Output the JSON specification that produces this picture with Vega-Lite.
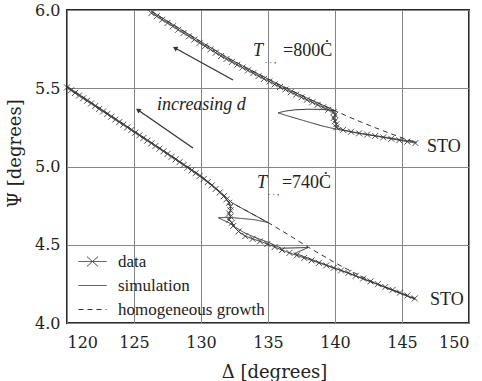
{
  "$schema": "https://vega.github.io/schema/vega-lite/v6.json",
  "width": 402,
  "height": 313,
  "autosize": {"type": "none"},
  "padding": {"left": 67, "top": 10, "right": 13, "bottom": 58},
  "background": "white",
  "config": {
    "view": {"stroke": "#2a2a2a", "strokeWidth": 2},
    "axis": {
      "grid": true, "gridColor": "#858585", "gridWidth": 1, "ticks": false, "domain": false,
      "labelFont": "DejaVu Serif, Liberation Serif, serif", "labelFontSize": 16, "labelColor": "#222",
      "titleFont": "DejaVu Serif, Liberation Serif, serif", "titleFontSize": 18, "titleFontWeight": "normal", "titleColor": "#222"
    }
  },
  "datasets": {
    "curves": [
      {"curve":"800","series":"data","order":1,"delta":126.3,"psi":5.980},
      {"curve":"800","series":"data","order":2,"delta":126.7,"psi":5.960},
      {"curve":"800","series":"data","order":3,"delta":127.1,"psi":5.938},
      {"curve":"800","series":"data","order":4,"delta":127.5,"psi":5.917},
      {"curve":"800","series":"data","order":5,"delta":127.9,"psi":5.896},
      {"curve":"800","series":"data","order":6,"delta":128.3,"psi":5.874},
      {"curve":"800","series":"data","order":7,"delta":128.7,"psi":5.853},
      {"curve":"800","series":"data","order":8,"delta":129.1,"psi":5.832},
      {"curve":"800","series":"data","order":9,"delta":129.5,"psi":5.811},
      {"curve":"800","series":"data","order":10,"delta":129.9,"psi":5.790},
      {"curve":"800","series":"data","order":11,"delta":130.3,"psi":5.769},
      {"curve":"800","series":"data","order":12,"delta":130.7,"psi":5.748},
      {"curve":"800","series":"data","order":13,"delta":131.1,"psi":5.727},
      {"curve":"800","series":"data","order":14,"delta":131.5,"psi":5.706},
      {"curve":"800","series":"data","order":15,"delta":131.9,"psi":5.687},
      {"curve":"800","series":"data","order":16,"delta":132.3,"psi":5.668},
      {"curve":"800","series":"data","order":17,"delta":132.7,"psi":5.650},
      {"curve":"800","series":"data","order":18,"delta":133.1,"psi":5.632},
      {"curve":"800","series":"data","order":19,"delta":133.5,"psi":5.614},
      {"curve":"800","series":"data","order":20,"delta":133.9,"psi":5.596},
      {"curve":"800","series":"data","order":21,"delta":134.3,"psi":5.578},
      {"curve":"800","series":"data","order":22,"delta":134.7,"psi":5.560},
      {"curve":"800","series":"data","order":23,"delta":135.1,"psi":5.543},
      {"curve":"800","series":"data","order":24,"delta":135.5,"psi":5.525},
      {"curve":"800","series":"data","order":25,"delta":135.9,"psi":5.508},
      {"curve":"800","series":"data","order":26,"delta":136.3,"psi":5.492},
      {"curve":"800","series":"data","order":27,"delta":136.7,"psi":5.475},
      {"curve":"800","series":"data","order":28,"delta":137.1,"psi":5.459},
      {"curve":"800","series":"data","order":29,"delta":137.5,"psi":5.442},
      {"curve":"800","series":"data","order":30,"delta":137.9,"psi":5.426},
      {"curve":"800","series":"data","order":31,"delta":138.3,"psi":5.410},
      {"curve":"800","series":"data","order":32,"delta":138.7,"psi":5.394},
      {"curve":"800","series":"data","order":33,"delta":139.1,"psi":5.378},
      {"curve":"800","series":"data","order":34,"delta":139.5,"psi":5.363},
      {"curve":"800","series":"data","order":35,"delta":139.9,"psi":5.348},
      {"curve":"800","series":"data","order":36,"delta":140.0,"psi":5.330},
      {"curve":"800","series":"data","order":37,"delta":139.9,"psi":5.310},
      {"curve":"800","series":"data","order":38,"delta":140.0,"psi":5.290},
      {"curve":"800","series":"data","order":39,"delta":140.1,"psi":5.270},
      {"curve":"800","series":"data","order":40,"delta":140.1,"psi":5.250},
      {"curve":"800","series":"data","order":41,"delta":140.6,"psi":5.234},
      {"curve":"800","series":"data","order":42,"delta":141.2,"psi":5.222},
      {"curve":"800","series":"data","order":43,"delta":141.8,"psi":5.212},
      {"curve":"800","series":"data","order":44,"delta":142.4,"psi":5.204},
      {"curve":"800","series":"data","order":45,"delta":143.0,"psi":5.195},
      {"curve":"800","series":"data","order":46,"delta":143.6,"psi":5.186},
      {"curve":"800","series":"data","order":47,"delta":144.2,"psi":5.177},
      {"curve":"800","series":"data","order":48,"delta":144.8,"psi":5.168},
      {"curve":"800","series":"data","order":49,"delta":145.4,"psi":5.159},
      {"curve":"800","series":"data","order":50,"delta":146.0,"psi":5.150},

      {"curve":"800","series":"simulation","order":1,"delta":126.3,"psi":5.992},
      {"curve":"800","series":"simulation","order":2,"delta":128.0,"psi":5.902},
      {"curve":"800","series":"simulation","order":3,"delta":130.0,"psi":5.797},
      {"curve":"800","series":"simulation","order":4,"delta":132.0,"psi":5.694},
      {"curve":"800","series":"simulation","order":5,"delta":134.0,"psi":5.603},
      {"curve":"800","series":"simulation","order":6,"delta":136.0,"psi":5.516},
      {"curve":"800","series":"simulation","order":7,"delta":138.0,"psi":5.434},
      {"curve":"800","series":"simulation","order":8,"delta":140.0,"psi":5.357},
      {"curve":"800","series":"simulation","order":9,"delta":139.0,"psi":5.365},
      {"curve":"800","series":"simulation","order":10,"delta":138.0,"psi":5.366},
      {"curve":"800","series":"simulation","order":11,"delta":137.0,"psi":5.362},
      {"curve":"800","series":"simulation","order":12,"delta":136.3,"psi":5.354},
      {"curve":"800","series":"simulation","order":13,"delta":135.75,"psi":5.343},
      {"curve":"800","series":"simulation","order":14,"delta":136.3,"psi":5.328},
      {"curve":"800","series":"simulation","order":15,"delta":137.0,"psi":5.310},
      {"curve":"800","series":"simulation","order":16,"delta":138.0,"psi":5.285},
      {"curve":"800","series":"simulation","order":17,"delta":139.0,"psi":5.260},
      {"curve":"800","series":"simulation","order":18,"delta":140.0,"psi":5.240},
      {"curve":"800","series":"simulation","order":19,"delta":141.0,"psi":5.225},
      {"curve":"800","series":"simulation","order":20,"delta":142.0,"psi":5.210},
      {"curve":"800","series":"simulation","order":21,"delta":143.0,"psi":5.197},
      {"curve":"800","series":"simulation","order":22,"delta":144.0,"psi":5.184},
      {"curve":"800","series":"simulation","order":23,"delta":145.0,"psi":5.170},
      {"curve":"800","series":"simulation","order":24,"delta":146.1,"psi":5.155},

      {"curve":"800","series":"homogeneous growth","order":1,"delta":126.3,"psi":5.992},
      {"curve":"800","series":"homogeneous growth","order":2,"delta":128.0,"psi":5.902},
      {"curve":"800","series":"homogeneous growth","order":3,"delta":130.0,"psi":5.797},
      {"curve":"800","series":"homogeneous growth","order":4,"delta":132.0,"psi":5.694},
      {"curve":"800","series":"homogeneous growth","order":5,"delta":134.0,"psi":5.603},
      {"curve":"800","series":"homogeneous growth","order":6,"delta":136.0,"psi":5.516},
      {"curve":"800","series":"homogeneous growth","order":7,"delta":138.0,"psi":5.434},
      {"curve":"800","series":"homogeneous growth","order":8,"delta":140.0,"psi":5.357},
      {"curve":"800","series":"homogeneous growth","order":9,"delta":141.0,"psi":5.318},
      {"curve":"800","series":"homogeneous growth","order":10,"delta":142.0,"psi":5.282},
      {"curve":"800","series":"homogeneous growth","order":11,"delta":143.0,"psi":5.248},
      {"curve":"800","series":"homogeneous growth","order":12,"delta":144.0,"psi":5.215},
      {"curve":"800","series":"homogeneous growth","order":13,"delta":145.0,"psi":5.183},
      {"curve":"800","series":"homogeneous growth","order":14,"delta":146.1,"psi":5.152},

      {"curve":"740","series":"data","order":1,"delta":120.0,"psi":5.505},
      {"curve":"740","series":"data","order":2,"delta":120.3,"psi":5.487},
      {"curve":"740","series":"data","order":3,"delta":120.6,"psi":5.470},
      {"curve":"740","series":"data","order":4,"delta":120.9,"psi":5.453},
      {"curve":"740","series":"data","order":5,"delta":121.2,"psi":5.436},
      {"curve":"740","series":"data","order":6,"delta":121.5,"psi":5.420},
      {"curve":"740","series":"data","order":7,"delta":121.8,"psi":5.403},
      {"curve":"740","series":"data","order":8,"delta":122.1,"psi":5.386},
      {"curve":"740","series":"data","order":9,"delta":122.4,"psi":5.368},
      {"curve":"740","series":"data","order":10,"delta":122.7,"psi":5.352},
      {"curve":"740","series":"data","order":11,"delta":123.0,"psi":5.335},
      {"curve":"740","series":"data","order":12,"delta":123.3,"psi":5.318},
      {"curve":"740","series":"data","order":13,"delta":123.6,"psi":5.300},
      {"curve":"740","series":"data","order":14,"delta":123.9,"psi":5.284},
      {"curve":"740","series":"data","order":15,"delta":124.2,"psi":5.267},
      {"curve":"740","series":"data","order":16,"delta":124.5,"psi":5.250},
      {"curve":"740","series":"data","order":17,"delta":124.8,"psi":5.233},
      {"curve":"740","series":"data","order":18,"delta":125.1,"psi":5.216},
      {"curve":"740","series":"data","order":19,"delta":125.4,"psi":5.199},
      {"curve":"740","series":"data","order":20,"delta":125.7,"psi":5.182},
      {"curve":"740","series":"data","order":21,"delta":126.0,"psi":5.165},
      {"curve":"740","series":"data","order":22,"delta":126.3,"psi":5.148},
      {"curve":"740","series":"data","order":23,"delta":126.6,"psi":5.131},
      {"curve":"740","series":"data","order":24,"delta":126.9,"psi":5.114},
      {"curve":"740","series":"data","order":25,"delta":127.2,"psi":5.097},
      {"curve":"740","series":"data","order":26,"delta":127.5,"psi":5.080},
      {"curve":"740","series":"data","order":27,"delta":127.8,"psi":5.062},
      {"curve":"740","series":"data","order":28,"delta":128.1,"psi":5.045},
      {"curve":"740","series":"data","order":29,"delta":128.4,"psi":5.028},
      {"curve":"740","series":"data","order":30,"delta":128.7,"psi":5.010},
      {"curve":"740","series":"data","order":31,"delta":129.0,"psi":4.993},
      {"curve":"740","series":"data","order":32,"delta":129.3,"psi":4.975},
      {"curve":"740","series":"data","order":33,"delta":129.6,"psi":4.957},
      {"curve":"740","series":"data","order":34,"delta":129.9,"psi":4.939},
      {"curve":"740","series":"data","order":35,"delta":130.2,"psi":4.920},
      {"curve":"740","series":"data","order":36,"delta":130.5,"psi":4.900},
      {"curve":"740","series":"data","order":37,"delta":130.8,"psi":4.879},
      {"curve":"740","series":"data","order":38,"delta":131.1,"psi":4.857},
      {"curve":"740","series":"data","order":39,"delta":131.4,"psi":4.834},
      {"curve":"740","series":"data","order":40,"delta":131.7,"psi":4.810},
      {"curve":"740","series":"data","order":41,"delta":131.9,"psi":4.790},
      {"curve":"740","series":"data","order":42,"delta":132.1,"psi":4.768},
      {"curve":"740","series":"data","order":43,"delta":132.2,"psi":4.745},
      {"curve":"740","series":"data","order":44,"delta":132.2,"psi":4.720},
      {"curve":"740","series":"data","order":45,"delta":132.1,"psi":4.700},
      {"curve":"740","series":"data","order":46,"delta":132.2,"psi":4.680},
      {"curve":"740","series":"data","order":47,"delta":132.1,"psi":4.660},
      {"curve":"740","series":"data","order":48,"delta":132.3,"psi":4.640},
      {"curve":"740","series":"data","order":49,"delta":132.4,"psi":4.620},
      {"curve":"740","series":"data","order":50,"delta":132.8,"psi":4.585},
      {"curve":"740","series":"data","order":51,"delta":133.3,"psi":4.555},
      {"curve":"740","series":"data","order":52,"delta":133.85,"psi":4.538},
      {"curve":"740","series":"data","order":53,"delta":134.4,"psi":4.522},
      {"curve":"740","series":"data","order":54,"delta":134.95,"psi":4.505},
      {"curve":"740","series":"data","order":55,"delta":135.5,"psi":4.486},
      {"curve":"740","series":"data","order":56,"delta":136.05,"psi":4.466},
      {"curve":"740","series":"data","order":57,"delta":136.6,"psi":4.448},
      {"curve":"740","series":"data","order":58,"delta":137.15,"psi":4.432},
      {"curve":"740","series":"data","order":59,"delta":137.7,"psi":4.416},
      {"curve":"740","series":"data","order":60,"delta":138.25,"psi":4.400},
      {"curve":"740","series":"data","order":61,"delta":138.8,"psi":4.384},
      {"curve":"740","series":"data","order":62,"delta":139.35,"psi":4.368},
      {"curve":"740","series":"data","order":63,"delta":139.9,"psi":4.352},
      {"curve":"740","series":"data","order":64,"delta":140.45,"psi":4.336},
      {"curve":"740","series":"data","order":65,"delta":141.0,"psi":4.320},
      {"curve":"740","series":"data","order":66,"delta":141.55,"psi":4.302},
      {"curve":"740","series":"data","order":67,"delta":142.1,"psi":4.284},
      {"curve":"740","series":"data","order":68,"delta":142.65,"psi":4.266},
      {"curve":"740","series":"data","order":69,"delta":143.2,"psi":4.248},
      {"curve":"740","series":"data","order":70,"delta":143.75,"psi":4.230},
      {"curve":"740","series":"data","order":71,"delta":144.3,"psi":4.212},
      {"curve":"740","series":"data","order":72,"delta":144.85,"psi":4.194},
      {"curve":"740","series":"data","order":73,"delta":145.4,"psi":4.176},
      {"curve":"740","series":"data","order":74,"delta":145.95,"psi":4.157},

      {"curve":"740","series":"simulation","order":1,"delta":120.0,"psi":5.512},
      {"curve":"740","series":"simulation","order":2,"delta":122.0,"psi":5.398},
      {"curve":"740","series":"simulation","order":3,"delta":124.0,"psi":5.284},
      {"curve":"740","series":"simulation","order":4,"delta":126.0,"psi":5.170},
      {"curve":"740","series":"simulation","order":5,"delta":128.0,"psi":5.056},
      {"curve":"740","series":"simulation","order":6,"delta":129.0,"psi":4.998},
      {"curve":"740","series":"simulation","order":7,"delta":130.0,"psi":4.940},
      {"curve":"740","series":"simulation","order":8,"delta":131.0,"psi":4.870},
      {"curve":"740","series":"simulation","order":9,"delta":131.8,"psi":4.810},
      {"curve":"740","series":"simulation","order":10,"delta":132.3,"psi":4.768},
      {"curve":"740","series":"simulation","order":11,"delta":133.5,"psi":4.712},
      {"curve":"740","series":"simulation","order":12,"delta":135.0,"psi":4.642},
      {"curve":"740","series":"simulation","order":13,"delta":134.0,"psi":4.660},
      {"curve":"740","series":"simulation","order":14,"delta":133.0,"psi":4.668},
      {"curve":"740","series":"simulation","order":15,"delta":132.0,"psi":4.676},
      {"curve":"740","series":"simulation","order":16,"delta":131.3,"psi":4.672},
      {"curve":"740","series":"simulation","order":17,"delta":131.6,"psi":4.660},
      {"curve":"740","series":"simulation","order":18,"delta":132.1,"psi":4.640},
      {"curve":"740","series":"simulation","order":19,"delta":132.6,"psi":4.610},
      {"curve":"740","series":"simulation","order":20,"delta":133.2,"psi":4.578},
      {"curve":"740","series":"simulation","order":21,"delta":134.0,"psi":4.548},
      {"curve":"740","series":"simulation","order":22,"delta":135.0,"psi":4.516},
      {"curve":"740","series":"simulation","order":23,"delta":136.0,"psi":4.478},
      {"curve":"740","series":"simulation","order":24,"delta":138.0,"psi":4.482},
      {"curve":"740","series":"simulation","order":25,"delta":137.0,"psi":4.445},
      {"curve":"740","series":"simulation","order":26,"delta":138.0,"psi":4.415},
      {"curve":"740","series":"simulation","order":27,"delta":139.0,"psi":4.382},
      {"curve":"740","series":"simulation","order":28,"delta":140.0,"psi":4.350},
      {"curve":"740","series":"simulation","order":29,"delta":141.0,"psi":4.318},
      {"curve":"740","series":"simulation","order":30,"delta":142.0,"psi":4.285},
      {"curve":"740","series":"simulation","order":31,"delta":143.0,"psi":4.252},
      {"curve":"740","series":"simulation","order":32,"delta":144.0,"psi":4.218},
      {"curve":"740","series":"simulation","order":33,"delta":145.0,"psi":4.185},
      {"curve":"740","series":"simulation","order":34,"delta":146.0,"psi":4.150},

      {"curve":"740","series":"homogeneous growth","order":1,"delta":120.0,"psi":5.512},
      {"curve":"740","series":"homogeneous growth","order":2,"delta":124.0,"psi":5.284},
      {"curve":"740","series":"homogeneous growth","order":3,"delta":128.0,"psi":5.056},
      {"curve":"740","series":"homogeneous growth","order":4,"delta":130.0,"psi":4.940},
      {"curve":"740","series":"homogeneous growth","order":5,"delta":131.0,"psi":4.870},
      {"curve":"740","series":"homogeneous growth","order":6,"delta":132.3,"psi":4.768},
      {"curve":"740","series":"homogeneous growth","order":7,"delta":135.0,"psi":4.642},
      {"curve":"740","series":"homogeneous growth","order":8,"delta":136.5,"psi":4.565},
      {"curve":"740","series":"homogeneous growth","order":9,"delta":138.0,"psi":4.485},
      {"curve":"740","series":"homogeneous growth","order":10,"delta":139.6,"psi":4.405},
      {"curve":"740","series":"homogeneous growth","order":11,"delta":140.5,"psi":4.362},
      {"curve":"740","series":"homogeneous growth","order":12,"delta":141.5,"psi":4.318},
      {"curve":"740","series":"homogeneous growth","order":13,"delta":143.0,"psi":4.255},
      {"curve":"740","series":"homogeneous growth","order":14,"delta":144.5,"psi":4.205},
      {"curve":"740","series":"homogeneous growth","order":15,"delta":146.0,"psi":4.155}
    ],
    "arrows": [
      {"x0":132.39,"y0":5.553,"x1":128.06,"y1":5.757,"dir":299},
      {"x0":129.40,"y0":5.118,"x1":125.30,"y1":5.361,"dir":305}
    ],
    "plain": [
      {"delta":136.12,"psi":5.706,"label":"=800Ċ","fs":18},
      {"delta":136.04,"psi":4.863,"label":"=740Ċ","fs":18},
      {"delta":146.87,"psi":5.093,"label":"STO","fs":18},
      {"delta":147.09,"psi":4.115,"label":"STO","fs":18},
      {"delta":134.78,"psi":5.661,"label":". . ,","fs":9},
      {"delta":135.00,"psi":4.818,"label":". . ,","fs":9}
    ],
    "italic": [
      {"delta":133.88,"psi":5.706,"label":"T"},
      {"delta":134.18,"psi":4.863,"label":"T"},
      {"delta":126.72,"psi":5.361,"label":"increasing d"}
    ]
  },
  "encoding": {
    "x": {"field": "delta", "type": "quantitative", "scale": {"domain": [120, 150], "nice": false, "zero": false},
          "axis": {"title": "Δ [degrees]", "values": [120,125,130,135,140,145,150], "format": "d", "labelPadding": 11, "titlePadding": 13, "titleX": 207}},
    "y": {"field": "psi", "type": "quantitative", "scale": {"domain": [4, 6], "nice": false, "zero": false},
          "axis": {"title": "Ψ [degrees]", "values": [4,4.5,5,5.5,6], "format": ".1f", "labelPadding": 7, "titlePadding": 10, "titleY": 143}}
  },
  "layer": [
    {
      "data": {"name": "curves"},
      "mark": {"type": "line", "color": "#333", "strokeWidth": 1, "clip": true},
      "encoding": {
        "detail": {"field": "curve"},
        "order": {"field": "order", "type": "quantitative"},
        "strokeDash": {
          "field": "series", "type": "nominal",
          "scale": {"domain": ["data", "simulation", "homogeneous growth"], "range": [[1,0],[1,0],[5,4]]},
          "legend": {
            "title": null, "orient": "none", "legendX": 17, "legendY": 243, "padding": 0,
            "labelFont": "Liberation Serif, Times New Roman, serif", "labelFontSize": 17, "labelColor": "#222", "labelLimit": 300,
            "labelOffset": 17, "rowPadding": 6, "symbolSize": 196, "symbolStrokeColor": "#333", "symbolStrokeWidth": 1,
            "encode": {"symbols": {"update": {
              "shape": {"signal": "datum.label === 'data' ? 'M-2,0L2,0M-0.8,-0.7L0.8,0.7M-0.8,0.7L0.8,-0.7' : 'M-2,0L2,0'"},
              "fill": {"value": "transparent"}
            }}}
          }
        }
      }
    },
    {
      "data": {"name": "curves"},
      "transform": [{"filter": "datum.series === 'data'"}],
      "mark": {"type": "point", "shape": "M-1,-1L1,1M-1,1L1,-1", "size": 36, "stroke": "#3a3a3a", "strokeWidth": 0.9, "filled": false, "opacity": 1}
    },
    {
      "data": {"name": "arrows"},
      "mark": {"type": "rule", "color": "#333", "strokeWidth": 1.3},
      "encoding": {
        "x": {"field": "x0", "type": "quantitative"},
        "y": {"field": "y0", "type": "quantitative"},
        "x2": {"field": "x1"},
        "y2": {"field": "y1"}
      }
    },
    {
      "data": {"name": "arrows"},
      "mark": {"type": "point", "shape": "triangle-up", "size": 30, "filled": true, "color": "#333", "opacity": 1},
      "encoding": {
        "x": {"field": "x1", "type": "quantitative"},
        "y": {"field": "y1", "type": "quantitative"},
        "angle": {"field": "dir", "type": "quantitative", "scale": null}
      }
    },
    {
      "data": {"name": "plain"},
      "mark": {"type": "text", "font": "Liberation Serif, Times New Roman, serif", "align": "left", "baseline": "alphabetic", "color": "#222"},
      "encoding": {
        "text": {"field": "label"},
        "size": {"field": "fs", "type": "quantitative", "scale": null}
      }
    },
    {
      "data": {"name": "italic"},
      "mark": {"type": "text", "font": "Liberation Serif, Times New Roman, serif", "fontStyle": "italic", "fontSize": 18, "align": "left", "baseline": "alphabetic", "color": "#222"},
      "encoding": {
        "text": {"field": "label"}
      }
    }
  ]
}
